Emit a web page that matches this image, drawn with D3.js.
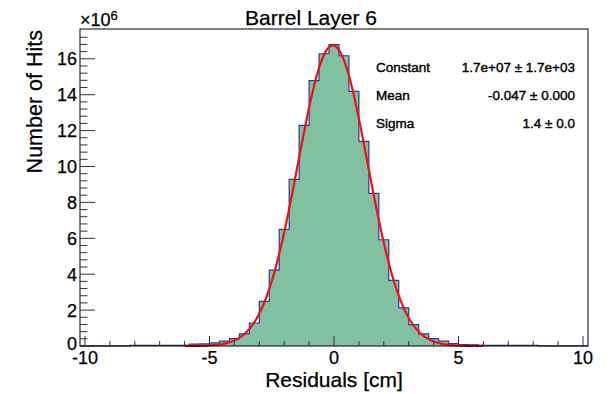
<!DOCTYPE html>
<html>
<head>
<meta charset="utf-8">
<script src="https://cdn.jsdelivr.net/npm/d3@7"></script>
<style>
  body { margin: 0; background: #fff; }
  text { font-family: "Liberation Sans", Arial, Helvetica, sans-serif; fill: #000; stroke: #000; stroke-width: 0.25px; }
</style>
</head>
<body>
<script>
// size of the canvas
var width = 611,
    height = 394;

// histogram bin centres (width 0.4 cm) and contents in millions of hits
var binCenters = d3.range(51).map(function(i) { return -10 + i * 0.4; });
var binCounts = [
  0.005, 0.006, 0.005, 0.006, 0.005,          // -10.0 .. -8.4
  0.03, 0.03, 0.03, 0.03, 0.035, 0.04,        // -8.0 .. -6.0
  0.10, 0.12, 0.17, 0.27, 0.41, 0.67,         // -5.6 .. -3.6
  1.28, 2.49, 4.23, 6.50, 9.28, 12.29,        // -3.2 .. -1.2
  14.78, 16.28, 16.79, 16.17, 14.18, 11.40,   // -0.8 .. 1.2
  8.50, 5.92, 3.66, 2.12, 1.19, 0.67,         // 1.6 .. 3.6
  0.41, 0.27, 0.14, 0.08, 0.07, 0.03,         // 4.0 .. 6.0
  0.03, 0.03, 0.03, 0.03, 0.03,               // 6.4 .. 8.0
  0.005, 0.006, 0.005, 0.006, 0.005           // 8.4 .. 10.0
];
var binWidth = 0.4;

// gaussian fit parameters (from the stats box)
var fitConstant = 16.75, fitMean = -0.047, fitSigma = 1.4;
var fitRange = [-6, 6];

// stats box lines
var statLabels = ['Constant', 'Mean', 'Sigma'];
var statValues = ['1.7e+07 \u00b1 1.7e+03', '-0.047 \u00b1 0.000', '1.4 \u00b1 0.0'];

// tick values
var xMajorTicks = [-10, -5, 0, 5, 10];
var xMinorTicks = d3.range(-10, 11, 1);
var yMajorTicks = [0, 2, 4, 6, 8, 10, 12, 14, 16];
var yMinorTicks = d3.range(0, 44).map(function(i) { return i * 0.4; });

// frame of the plot
var frame = { left: 80, right: 588, top: 29, bottom: 346 };

var svg = d3.select('body')
  .append('svg')
  .attr('width', width)
  .attr('height', height);

var x = d3.scaleLinear().domain([-10.2, 10.2]).range([frame.left, frame.right]);
var y = d3.scaleLinear().domain([0, 17.66]).range([frame.bottom, frame.top]);

// histogram as a step path along the bin tops
var bins = binCenters.map(function(c, i) {
  return { x0: c - binWidth / 2, x1: c + binWidth / 2, v: binCounts[i] };
});

var stepPoints = [];
bins.forEach(function(b) {
  stepPoints.push([x(b.x0), y(b.v)]);
  stepPoints.push([x(b.x1), y(b.v)]);
});

var line = d3.line();

// filled area
var area = d3.area()
  .x(function(d) { return d[0]; })
  .y0(y(0))
  .y1(function(d) { return d[1]; });

svg.append('path')
  .attr('d', area(stepPoints))
  .attr('fill', '#81c1a2');

svg.append('path')
  .attr('d', line(stepPoints))
  .attr('fill', 'none')
  .attr('stroke', '#2f35a3')
  .attr('stroke-width', 1.2);

// fit curve
var fitPoints = d3.range(fitRange[0], fitRange[1] + 0.001, 0.05).map(function(v) {
  var g = fitConstant * Math.exp(-0.5 * Math.pow((v - fitMean) / fitSigma, 2));
  return [x(v), y(g)];
});

svg.append('path')
  .attr('d', line(fitPoints))
  .attr('fill', 'none')
  .attr('stroke', '#f01010')
  .attr('stroke-width', 2.2);

// frame
svg.append('rect')
  .attr('x', frame.left)
  .attr('y', frame.top)
  .attr('width', frame.right - frame.left)
  .attr('height', frame.bottom - frame.top)
  .attr('fill', 'none')
  .attr('stroke', '#000')
  .attr('stroke-width', 1);

// x ticks point inwards (up)
svg.append('g').selectAll('line')
  .data(xMinorTicks)
  .enter().append('line')
  .attr('x1', function(d) { return x(d); })
  .attr('x2', function(d) { return x(d); })
  .attr('y1', frame.bottom)
  .attr('y2', function(d) { return frame.bottom - (xMajorTicks.indexOf(d) >= 0 ? 10 : 5); })
  .attr('stroke', '#333');

svg.append('g').selectAll('text')
  .data(xMajorTicks)
  .enter().append('text')
  .attr('x', function(d) { return x(d); })
  .attr('y', 364)
  .attr('text-anchor', 'middle')
  .style('font-size', '18px')
  .text(function(d) { return d; });

// y ticks point inwards (right)
svg.append('g').selectAll('line')
  .data(yMinorTicks)
  .enter().append('line')
  .attr('y1', function(d) { return y(d); })
  .attr('y2', function(d) { return y(d); })
  .attr('x1', frame.left)
  .attr('x2', function(d, i) { return frame.left + (i % 5 === 0 ? 15 : 7.5); })
  .attr('stroke', '#333');

svg.append('g').selectAll('text')
  .data(yMajorTicks)
  .enter().append('text')
  .attr('x', 77)
  .attr('y', function(d) { return d === 0 ? y(d) - 2 : y(d); })
  .attr('dy', '0.36em')
  .attr('text-anchor', 'end')
  .style('font-size', '18px')
  .text(function(d) { return d; });

// exponent label
var expo = svg.append('text')
  .attr('x', 80)
  .attr('y', 26)
  .style('font-size', '18px');
expo.append('tspan').text('\u00d710');
expo.append('tspan')
  .attr('dy', -6)
  .style('font-size', '13px')
  .text('6');

// titles
svg.append('text')
  .attr('x', 311)
  .attr('y', 25)
  .attr('text-anchor', 'middle')
  .style('font-size', '21px')
  .text('Barrel Layer 6');

svg.append('text')
  .attr('x', x(0))
  .attr('y', 387)
  .attr('text-anchor', 'middle')
  .style('font-size', '21px')
  .text('Residuals [cm]');

svg.append('text')
  .attr('transform', 'translate(42,30) rotate(-90)')
  .attr('text-anchor', 'end')
  .style('font-size', '21.5px')
  .text('Number of Hits');

// stats box contents
var stats = svg.append('g');
stats.selectAll('.lab')
  .data(statLabels)
  .enter().append('text')
  .attr('class', 'lab')
  .attr('x', 376)
  .attr('y', function(d, i) { return 72 + i * 28; })
  .style('font-size', '13.5px')
  .style('stroke-width', '0.4px')
  .text(function(d) { return d; });

stats.selectAll('.val')
  .data(statValues)
  .enter().append('text')
  .attr('class', 'val')
  .attr('x', 575)
  .attr('y', function(d, i) { return 72 + i * 28; })
  .attr('text-anchor', 'end')
  .style('font-size', '13.5px')
  .style('stroke-width', '0.4px')
  .text(function(d) { return d; });
</script>
</body>
</html>
